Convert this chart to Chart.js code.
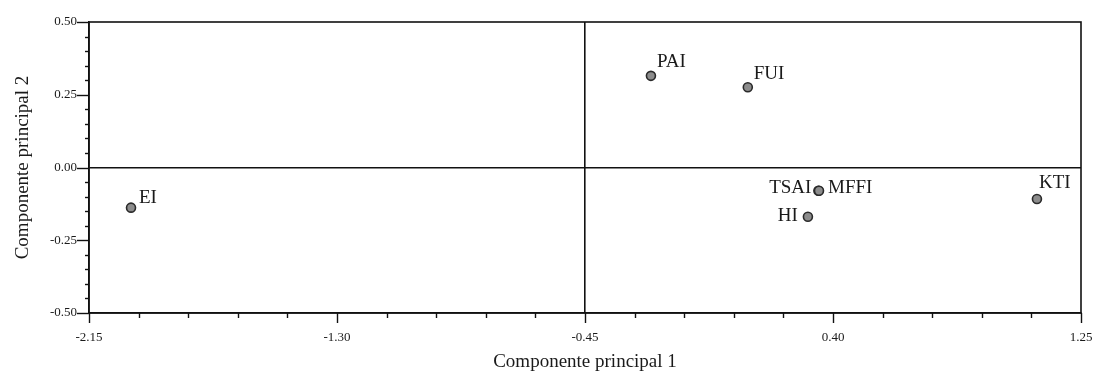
<!DOCTYPE html>
<html>
<head>
<meta charset="utf-8">
<script src="https://cdn.jsdelivr.net/npm/chart.js@4/dist/chart.umd.min.js"></script>
<style>
  html, body { margin: 0; padding: 0; background: #fff; }
  #wrap { width: 1094px; height: 373px; position: relative; }
</style>
</head>
<body>
<div id="wrap"><canvas id="c"></canvas></div>
<script>
// ---- data ----
const pointLabels = ['EI', 'PAI', 'FUI', 'TSAI', 'MFFI', 'HI', 'KTI'];
const pc1 = [-2.006, -0.224, 0.108, 0.350, 0.352, 0.314, 1.099];
const pc2 = [-0.138, 0.315, 0.276, -0.080, -0.080, -0.169, -0.108];

const xTickValues = [-2.15, -1.30, -0.45, 0.40, 1.25];
const xTickLabels = ['-2.15', '-1.30', '-0.45', '0.40', '1.25'];
const yTickValues = [-0.50, -0.25, 0.00, 0.25, 0.50];
const yTickLabels = ['-0.50', '-0.25', '0.00', '0.25', '0.50'];

const xTitle = 'Componente principal 1';
const yTitle = 'Componente principal 2';

// ---- styles ----
const labelStyle = {
  EI:   { dx: 8,   dy: -5,  align: 'left' },
  PAI:  { dx: 6,   dy: -9,  align: 'left' },
  FUI:  { dx: 6,   dy: -8,  align: 'left' },
  TSAI: { dx: -7,  dy: 2,   align: 'right' },
  MFFI: { dx: 9,   dy: 2,   align: 'left' },
  HI:   { dx: -10, dy: 4,   align: 'right' },
  KTI:  { dx: 2,   dy: -11, align: 'left' }
};
const SERIF = '"Liberation Serif", "Times New Roman", serif';
const MINOR_DIV = 5;

function withMinor(majors) {
  const out = [];
  for (let i = 0; i < majors.length; i++) {
    out.push({ value: majors[i], major: true });
    if (i < majors.length - 1) {
      const step = (majors[i + 1] - majors[i]) / MINOR_DIV;
      for (let j = 1; j < MINOR_DIV; j++) out.push({ value: majors[i] + j * step, major: false });
    }
  }
  return out;
}
function labelFor(values, labels, v) {
  for (let i = 0; i < values.length; i++) if (Math.abs(values[i] - v) < 1e-6) return labels[i];
  return '';
}

const frameAndTicks = {
  id: 'frameAndTicks',
  afterDraw(chart) {
    const { ctx, chartArea: a, scales } = chart;
    ctx.save();
    ctx.strokeStyle = '#111';
    ctx.lineWidth = 1.6;
    ctx.strokeRect(a.left, a.top, a.right - a.left, a.bottom - a.top);
    ctx.lineWidth = 1.4;
    scales.x.ticks.forEach(t => {
      const px = Math.round(scales.x.getPixelForValue(t.value)) + 0.5;
      const len = t.major ? 10 : 5;
      ctx.beginPath(); ctx.moveTo(px, a.bottom); ctx.lineTo(px, a.bottom + len); ctx.stroke();
    });
    scales.y.ticks.forEach(t => {
      const py = Math.round(scales.y.getPixelForValue(t.value)) + 0.5;
      const len = t.major ? 12 : 4;
      ctx.beginPath(); ctx.moveTo(a.left, py); ctx.lineTo(a.left - len, py); ctx.stroke();
    });
    ctx.restore();
  },
  afterDatasetsDraw(chart) {
    const { ctx } = chart;
    const meta = chart.getDatasetMeta(0);
    ctx.save();
    ctx.font = '19px ' + SERIF;
    ctx.fillStyle = '#1a1a1a';
    ctx.textBaseline = 'alphabetic';
    meta.data.forEach((el, i) => {
      const name = pointLabels[i];
      const s = labelStyle[name];
      ctx.textAlign = s.align;
      ctx.fillText(name, el.x + s.dx, el.y + s.dy);
    });
    ctx.restore();
  }
};

new Chart(document.getElementById('c'), {
  type: 'scatter',
  data: {
    datasets: [{
      data: pc1.map((x, i) => ({ x: x, y: pc2[i] })),
      pointRadius: 4.5,
      pointHoverRadius: 4.5,
      pointBackgroundColor: '#8c8c8c',
      pointBorderColor: '#2a2a2a',
      pointBorderWidth: 1.6
    }]
  },
  options: {
    responsive: true,
    maintainAspectRatio: false,
    animation: false,
    layout: { padding: { top: 22, right: 13, left: 0, bottom: 0 } },
    plugins: { legend: { display: false }, tooltip: { enabled: false } },
    scales: {
      x: {
        type: 'linear',
        min: xTickValues[0],
        max: xTickValues[xTickValues.length - 1],
        afterBuildTicks: s => { s.ticks = withMinor(xTickValues); },
        afterFit: s => { s.height = 60; s.paddingLeft = 0; s.paddingRight = 0; },
        ticks: {
          autoSkip: false,
          maxRotation: 0,
          padding: 7,
          color: '#1a1a1a',
          font: { family: SERIF, size: 13 },
          callback: v => labelFor(xTickValues, xTickLabels, v)
        },
        grid: {
          drawOnChartArea: true,
          color: c => (c.tick && Math.abs(c.tick.value - xTickValues[2]) < 1e-6) ? '#111' : 'transparent',
          lineWidth: 1.6,
          tickColor: 'transparent',
          tickLength: 10
        },
        border: { display: true, color: '#111', width: 1.6 },
        title: {
          display: true,
          text: xTitle,
          color: '#1a1a1a',
          font: { family: SERIF, size: 19 },
          padding: { top: 0, bottom: 0 }
        }
      },
      y: {
        type: 'linear',
        min: yTickValues[0],
        max: yTickValues[yTickValues.length - 1],
        afterBuildTicks: s => { s.ticks = withMinor(yTickValues); },
        afterFit: s => { s.width = 89; s.paddingTop = 0; s.paddingBottom = 0; },
        ticks: {
          autoSkip: false,
          padding: 0,
          color: '#1a1a1a',
          font: { family: SERIF, size: 13 },
          callback: v => labelFor(yTickValues, yTickLabels, v)
        },
        grid: {
          drawOnChartArea: true,
          color: c => (c.tick && Math.abs(c.tick.value) < 1e-6) ? '#111' : 'transparent',
          lineWidth: 1.6,
          tickColor: 'transparent',
          tickLength: 12
        },
        border: { display: true, color: '#111', width: 1.6 },
        title: {
          display: true,
          text: yTitle,
          color: '#1a1a1a',
          font: { family: SERIF, size: 19 },
          padding: { top: 12, bottom: 0 }
        }
      }
    }
  },
  plugins: [frameAndTicks]
});
</script>
</body>
</html>
